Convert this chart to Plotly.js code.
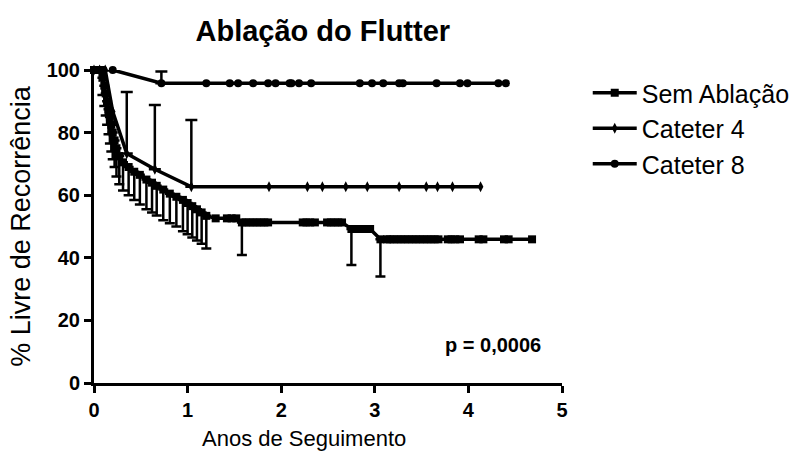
<!DOCTYPE html>
<html>
<head>
<meta charset="utf-8">
<script src="https://cdn.plot.ly/plotly-3.0.1.min.js"></script>
<style>
  html, body { margin: 0; padding: 0; background: #fff; }
  #chart { width: 801px; height: 456px; }
</style>
</head>
<body>
<div id="chart"></div>
<script>
// Kaplan-Meier recurrence-free curves after flutter ablation.
// Each point is an event or a censored patient; *Lower / *Upper hold the
// one-sided confidence bound drawn as an error bar (NaN = no bar).

const semX = [0, 0.04, 0.07, 0.09, 0.11, 0.125, 0.14, 0.155, 0.17, 0.185, 0.20, 0.22, 0.24, 0.27, 0.31,
  0.37, 0.43, 0.49, 0.56, 0.62, 0.67, 0.74, 0.81, 0.88, 0.95, 1.00, 1.05, 1.10, 1.15, 1.20,
  1.30, 1.42, 1.47, 1.52, 1.58,
  1.62, 1.66, 1.70, 1.74, 1.78, 1.82, 1.86, 2.23, 2.27, 2.31, 2.36, 2.49, 2.53, 2.57, 2.61, 2.65,
  2.75, 2.80, 2.85, 2.90, 2.95, 3.06,
  3.13, 3.16, 3.20, 3.24, 3.28, 3.32, 3.36, 3.40, 3.44, 3.48, 3.52, 3.56, 3.60, 3.64, 3.68,
  3.78, 3.82, 3.86, 3.91, 4.11, 4.16, 4.38, 4.43, 4.68];
const semY = [100, 100, 100, 97.5, 95, 92.5, 90, 87.5, 85, 82.5, 80, 77.5, 75, 72.5, 70.5,
  69, 67.5, 66.5, 65, 64, 63, 61.8, 60.5, 59.5, 58.5, 57.5, 56.5, 55.5, 54.5, 53.4,
  52.6, 52.6, 52.6, 52.6, 51.3,
  51.3, 51.3, 51.3, 51.3, 51.3, 51.3, 51.3, 51.3, 51.3, 51.3, 51.3, 51.3, 51.3, 51.3, 51.3, 51.3,
  49.2, 49.2, 49.2, 49.2, 49.2, 45.9,
  45.9, 45.9, 45.9, 45.9, 45.9, 45.9, 45.9, 45.9, 45.9, 45.9, 45.9, 45.9, 45.9, 45.9, 45.9,
  45.9, 45.9, 45.9, 45.9, 45.9, 45.9, 45.9, 45.9, 45.9];
const semLower = [NaN, NaN, NaN, 92, 88.5, 85.5, 82.5, 79.5, 76.5, 74, 71.5, 69, 66, 63.5, 61.5,
  60, 58.5, 57, 55.5, 54.5, 53.5, 52, 51, 50, 48.5, 47.5, 46.5, 45.5, 44.5, 43,
  NaN, NaN, NaN, NaN, 40.9,
  NaN, NaN, NaN, NaN, NaN, NaN, NaN, NaN, NaN, NaN, NaN, NaN, NaN, NaN, NaN, NaN,
  37.7, NaN, NaN, NaN, NaN, 34,
  NaN, NaN, NaN, NaN, NaN, NaN, NaN, NaN, NaN, NaN, NaN, NaN, NaN, NaN, NaN,
  NaN, NaN, NaN, NaN, NaN, NaN, NaN, NaN, NaN];

const cat4X = [0, 0.06, 0.12, 0.20, 0.35, 0.65, 1.04, 1.87, 2.28, 2.44, 2.69, 2.92, 3.26, 3.55, 3.67, 3.83, 4.13];
const cat4Y = [100, 100, 100, 86.7, 73.3, 68.3, 62.7, 62.7, 62.7, 62.7, 62.7, 62.7, 62.7, 62.7, 62.7, 62.7, 62.7];
const cat4Upper = [NaN, NaN, NaN, NaN, 93, 88.8, 84, NaN, NaN, NaN, NaN, NaN, NaN, NaN, NaN, NaN, NaN];

const cat8X = [0, 0.10, 0.20, 0.72, 1.20, 1.45, 1.54, 1.70, 1.86, 1.94, 2.09, 2.11, 2.19, 2.32,
  2.84, 2.97, 3.09, 3.26, 3.30, 3.66, 3.91, 3.99, 4.32, 4.40];
const cat8Y = [100, 100, 100, 95.8, 95.8, 95.8, 95.8, 95.8, 95.8, 95.8, 95.8, 95.8, 95.8, 95.8,
  95.8, 95.8, 95.8, 95.8, 95.8, 95.8, 95.8, 95.8, 95.8, 95.8];
const cat8Upper = [NaN, NaN, NaN, 99.5, NaN, NaN, NaN, NaN, NaN, NaN, NaN, NaN, NaN, NaN,
  NaN, NaN, NaN, NaN, NaN, NaN, NaN, NaN, NaN, NaN];

const seriesNames = ['Sem Ablação', 'Cateter 4', 'Cateter 8'];
const xTicks = [0, 1, 2, 3, 4, 5];
const yTicks = [0, 20, 40, 60, 80, 100];

const FONT = '"Liberation Sans", Arial, Helvetica, sans-serif';
const INK = '#000';

// distance from a point down to its lower bound, or up to its upper bound
const below = (ys, lows) => ys.map((y, i) => isNaN(lows[i]) ? NaN : y - lows[i]);
const above = (ys, ups) => ys.map((y, i) => isNaN(ups[i]) ? NaN : ups[i] - y);

const traces = [
  {
    name: seriesNames[0], x: semX, y: semY, type: 'scatter', mode: 'lines+markers',
    line: { color: INK, width: 3.5 },
    marker: { symbol: 'square', size: 8, color: INK },
    error_y: { type: 'data', symmetric: false, array: [], arrayminus: below(semY, semLower),
               color: INK, thickness: 2.5, width: 5 },
    legendgroup: 'a', cliponaxis: false
  },
  {
    name: seriesNames[1], x: cat4X, y: cat4Y, type: 'scatter', mode: 'lines+markers',
    line: { color: INK, width: 3.5 },
    marker: { symbol: 'diamond-tall', size: 8, color: INK },
    error_y: { type: 'data', symmetric: false, array: above(cat4Y, cat4Upper), arrayminus: [],
               color: INK, thickness: 2.5, width: 6 },
    legendgroup: 'b', cliponaxis: false
  },
  {
    name: seriesNames[2], x: cat8X, y: cat8Y, type: 'scatter', mode: 'lines+markers',
    line: { color: INK, width: 3.5 },
    marker: { symbol: 'circle', size: 8, color: INK },
    error_y: { type: 'data', symmetric: false, array: above(cat8Y, cat8Upper), arrayminus: [],
               color: INK, thickness: 2.5, width: 6 },
    legendgroup: 'c', cliponaxis: false
  }
];

const layout = {
  width: 801, height: 456,
  margin: { l: 94, r: 239, t: 70, b: 73, autoexpand: false },
  paper_bgcolor: '#fff', plot_bgcolor: '#fff',
  font: { family: FONT, color: INK },
  title: {
    text: 'Ablação do Flutter',
    font: { family: FONT, size: 29, color: INK, weight: 'bold' },
    x: 0.403, xanchor: 'center', y: 0.933, yanchor: 'middle'
  },
  xaxis: {
    range: [0, 5], tickvals: xTicks, ticktext: xTicks.map(String),
    showgrid: false, zeroline: false, showline: true, linewidth: 3, linecolor: INK,
    ticks: 'outside', ticklen: 7, tickwidth: 3, tickcolor: INK,
    tickfont: { family: FONT, size: 20, color: INK, weight: 'bold' }
  },
  yaxis: {
    range: [0, 100], tickvals: yTicks, ticktext: yTicks.map(String),
    showgrid: false, zeroline: false, showline: true, linewidth: 3, linecolor: INK,
    ticks: 'outside', ticklen: 7, tickwidth: 3, tickcolor: INK,
    tickfont: { family: FONT, size: 20, color: INK, weight: 'bold' },
    title: { text: '% Livre de Recorrência', font: { family: FONT, size: 27, color: INK }, standoff: 9 }
  },
  legend: {
    x: 1.055, xanchor: 'left', y: 1.0, yanchor: 'top',
    font: { family: FONT, size: 25, color: INK },
    itemwidth: 44,
    traceorder: 'grouped', tracegroupgap: 0,
    bgcolor: 'rgba(0,0,0,0)', borderwidth: 0
  },
  annotations: [
    {
      text: 'Anos de Seguimento', xref: 'paper', yref: 'paper',
      x: 0.449, y: -0.13, xanchor: 'center', yanchor: 'top', showarrow: false,
      font: { family: FONT, size: 22, color: INK }
    },
    {
      text: 'p = 0,0006', xref: 'x', yref: 'y',
      x: 4.8, y: 12, xanchor: 'right', yanchor: 'middle', showarrow: false,
      font: { family: FONT, size: 20, color: INK, weight: 'bold' }
    }
  ],
  showlegend: true
};

Plotly.newPlot('chart', traces, layout, { displayModeBar: false, staticPlot: true });
</script>
</body>
</html>
